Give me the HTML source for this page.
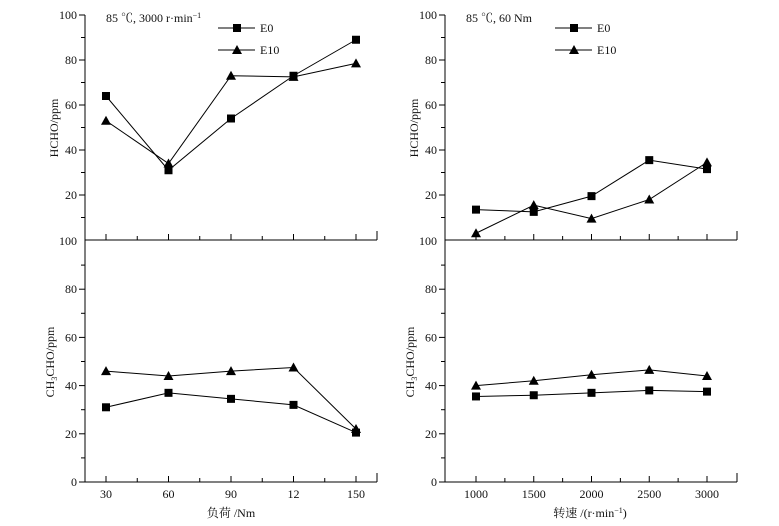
<!DOCTYPE html>
<html><head><meta charset="utf-8"><style>
html,body{margin:0;padding:0;background:#fff}
svg{display:block}
text{font-family:"Liberation Serif","Noto Serif CJK SC",serif;font-size:12px;fill:#111}
</style></head><body>
<svg id="c" width="779" height="526" xmlns="http://www.w3.org/2000/svg"></svg>
<script>
const loadCats=[30,60,90,12,150];
const speedCats=[1000,1500,2000,2500,3000];
const hchoLoadE0=[64,31,54,73,89];
const hchoLoadE10=[53,34,73,72.5,78.5];
const acLoadE0=[31,37,34.5,32,20.5];
const acLoadE10=[46,44,46,47.5,22];
const hchoSpeedE0=[13.5,12.5,19.5,35.5,31.5];
const hchoSpeedE10=[3,15.5,9.5,18,34.5];
const acSpeedE0=[35.5,36,37,38,37.5];
const acSpeedE10=[40,42,44.5,46.5,44];
const topTicks=[20,40,60,80,100];
const botTicks=[0,20,40,60,80,100];

const svg=document.getElementById('c');
const NS='http://www.w3.org/2000/svg';
function mk(t,a,p){const e=document.createElementNS(NS,t);for(const k in a)e.setAttribute(k,a[k]);(p||svg).appendChild(e);return e;}
function txt(s,x,y,anchor,p){const e=mk('text',{x:x,y:y,'text-anchor':anchor||'middle'},p);e.textContent=s;return e;}

function panel(cfg){
  const g=mk('g',{});
  
  
  const xs=i=>cfg.x0+i*cfg.dx;
  const yT=v=>240-v*2.25;
  const yB=v=>482-v*2.41;
  mk('line',{x1:cfg.ax,y1:15,x2:cfg.ax,y2:482,stroke:'#000','stroke-width':1},g);
  mk('line',{x1:cfg.ax,y1:240,x2:cfg.ar,y2:240,stroke:'#000'},g);
  mk('line',{x1:cfg.ax,y1:482,x2:cfg.ar,y2:482,stroke:'#000'},g);
  mk('line',{x1:cfg.ar,y1:231,x2:cfg.ar,y2:240,stroke:'#000'},g);
  mk('line',{x1:cfg.ar,y1:473,x2:cfg.ar,y2:482,stroke:'#000'},g);
  for(let v=0;v<=100;v+=10){
    const yt=yT(v), yb=yB(v);
    const L=v%20===0?6:4;
    if(v>0)mk('line',{x1:cfg.ax-L,y1:yt,x2:cfg.ax,y2:yt,stroke:'#000'},g);
    if(v<100)mk('line',{x1:cfg.ax-L,y1:yb,x2:cfg.ax,y2:yb,stroke:'#000'},g);
  }
  topTicks.forEach(v=>{const t=txt(String(v),cfg.ax-8,yT(v)+4,'end',g);});
  botTicks.forEach(v=>{const t=txt(String(v),cfg.ax-8,yB(v)+4,'end',g);});
  cfg.cats.forEach((c,i)=>{
    [240,482].forEach(yy=>{
      mk('line',{x1:xs(i),y1:yy-6,x2:xs(i),y2:yy,stroke:'#000'},g);
      if(i<cfg.cats.length-1)mk('line',{x1:xs(i+0.5),y1:yy-4,x2:xs(i+0.5),y2:yy,stroke:'#000'},g);
    });
    const t=txt(String(c),xs(i),498,'middle',g);
    
    
  });
  function series(vals,yf,shape,name){
    const sg=mk('g',{},g);
    
    
    mk('polyline',{points:vals.map((v,i)=>xs(i)+','+yf(v)).join(' '),fill:'none',stroke:'#000','stroke-width':1},sg);
    vals.forEach((v,i)=>marker(xs(i),yf(v),shape,sg));
  }
  series(cfg.tE0,yT,'sq','hcho-e0-line');
  series(cfg.tE10,yT,'tri','hcho-e10-line');
  series(cfg.bE0,yB,'sq','ch3cho-e0-line');
  series(cfg.bE10,yB,'tri','ch3cho-e10-line');
  const lg=mk('g',{},g);
  
  
  mk('line',{x1:cfg.lx,y1:28,x2:cfg.lx+37,y2:28,stroke:'#000'},lg);
  marker(cfg.lx+19,28,'sq',lg);
  txt('E0',cfg.lx+42,32,'start',lg);
  mk('line',{x1:cfg.lx,y1:50,x2:cfg.lx+37,y2:50,stroke:'#000'},lg);
  marker(cfg.lx+19,50,'tri',lg);
  txt('E10',cfg.lx+42,54,'start',lg);
  const an=mk('text',{x:cfg.ax+21,y:22,'text-anchor':'start'},g);
  an.innerHTML=cfg.note;
  
  
  const t1=txt('HCHO/ppm',0,0,'middle',g);
  t1.setAttribute('transform','translate('+(cfg.ax-27)+',128) rotate(-90)');
  
  
  const t2=mk('text',{transform:'translate('+(cfg.ax-31)+',362) rotate(-90)','text-anchor':'middle'},g);
  t2.innerHTML='CH<tspan font-size="8" dy="3">3</tspan><tspan dy="-3">CHO/ppm</tspan>';
  
  
  const t3=mk('text',{x:cfg.tx,y:517,'text-anchor':'middle'},g);
  t3.innerHTML=cfg.xtitle;
  
  
}
function marker(x,y,shape,p){
  if(shape==='sq')mk('rect',{x:x-4,y:y-4,width:8,height:8,fill:'#000'},p);
  else mk('polygon',{points:(x)+','+(y-5)+' '+(x-5)+','+(y+4)+' '+(x+5)+','+(y+4),fill:'#000'},p);
}
panel({name:'load-panel',ax:85,ar:377,x0:106,dx:62.5,cats:loadCats,tE0:hchoLoadE0,tE10:hchoLoadE10,bE0:acLoadE0,bE10:acLoadE10,lx:218,
  note:'85 ℃, 3000 r·min<tspan font-size="8" dy="-4">−1</tspan>',tx:231,xtitle:'负荷 /Nm'});
panel({name:'speed-panel',ax:445,ar:737,x0:476,dx:57.75,cats:speedCats,tE0:hchoSpeedE0,tE10:hchoSpeedE10,bE0:acSpeedE0,bE10:acSpeedE10,lx:555,
  note:'85 ℃, 60 Nm',tx:590,xtitle:'转速 /(r·min<tspan font-size="8" dy="-4">−1</tspan><tspan dy="4">)</tspan>'});
</script>
</body></html>
